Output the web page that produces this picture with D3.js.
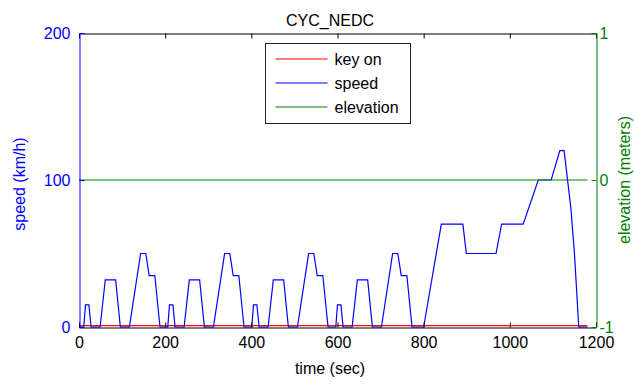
<!DOCTYPE html>
<html>
<head>
<meta charset="utf-8">
<script src="https://cdn.jsdelivr.net/npm/d3@7"></script>
<style>
  body { margin: 0; background: #fff; }
  text { font-family: "Liberation Sans", Arial, sans-serif; font-size: 16px; }
</style>
</head>
<body>
<div id="chart"></div>
<script>
// NEDC drive cycle, break points
var cycTime = [0, 11, 15, 23, 28, 49, 61, 85, 96, 117, 143, 155, 163, 176, 188,
  206, 210, 218, 223, 244, 256, 280, 291, 312, 338, 350, 358, 371, 383,
  401, 405, 413, 418, 439, 451, 475, 486, 507, 533, 545, 553, 566, 578,
  596, 600, 608, 613, 634, 646, 670, 681, 702, 728, 740, 748, 761, 773,
  800, 841, 891, 899, 968, 981, 1031, 1066, 1096, 1116, 1126, 1142, 1150, 1160, 1180];
var cycSpeed = [0, 0, 15, 15, 0, 0, 32, 32, 0, 0, 50, 50, 35, 35, 0,
  0, 15, 15, 0, 0, 32, 32, 0, 0, 50, 50, 35, 35, 0,
  0, 15, 15, 0, 0, 32, 32, 0, 0, 50, 50, 35, 35, 0,
  0, 15, 15, 0, 0, 32, 32, 0, 0, 50, 50, 35, 35, 0,
  0, 70, 70, 50, 50, 70, 70, 100, 100, 120, 120, 80, 50, 0, 0];

// key on (left axis) and elevation (right axis) are flat
var keyTime = [0, 1180];
var keyOn = [1, 1];
var elevTime = [0, 1180];
var elevation = [0, 0];

var xTicks = [0, 200, 400, 600, 800, 1000, 1200];
var leftTicks = [0, 100, 200];
var rightTicks = [-1, 0, 1];
var legendNames = ["key on", "speed", "elevation"];

var svgWidth = 634;
var svgHeight = 385;
var plot = { left: 79, right: 596, top: 33, bottom: 327 };

var blue = "#0000ff";
var green = "#008000";
var red = "#ff0000";

var svg = d3.select("#chart")
  .append("svg")
  .attr("width", svgWidth)
  .attr("height", svgHeight);

var x = d3.scaleLinear().domain([0, 1200]).range([plot.left, plot.right]);
var yLeft = d3.scaleLinear().domain([0, 200]).range([plot.bottom, plot.top]);
var yRight = d3.scaleLinear().domain([-1, 1]).range([plot.bottom, plot.top]);

// lines
function drawLine(times, vals, yScale, color) {
  var pts = times.map(function(t, i) { return [t, vals[i]]; });
  svg.append("path")
    .datum(pts)
    .attr("fill", "none")
    .attr("stroke", color)
    .attr("stroke-width", 1.2)
    .attr("d", d3.line().x(d => x(d[0])).y(d => yScale(d[1])));
}

drawLine(keyTime, keyOn, yLeft, red);
drawLine(cycTime, cycSpeed, yLeft, blue);
drawLine(elevTime, elevation, yRight, green);

// bottom axis
var bottomAxis = svg.append("g")
  .attr("transform", `translate(0, ${plot.bottom + 0.5})`)
  .call(d3.axisBottom(x).tickValues(xTicks).tickSizeInner(-5).tickSizeOuter(0).tickPadding(9)
    .tickFormat(d3.format("d")));
bottomAxis.selectAll("text").attr("fill", "#000").style("font-size", "16px");

// top axis (ticks only)
svg.append("g")
  .attr("transform", `translate(0, ${plot.top + 0.5})`)
  .call(d3.axisTop(x).tickValues(xTicks).tickSizeInner(-5).tickSizeOuter(0).tickFormat(""));

svg.selectAll(".domain").attr("stroke", "#000");
svg.selectAll(".tick line").attr("stroke", "#000");

// left axis
var leftAxis = svg.append("g")
  .attr("transform", `translate(${plot.left + 0.5}, 0)`)
  .call(d3.axisLeft(yLeft).tickValues(leftTicks).tickSizeInner(-5).tickSizeOuter(0).tickPadding(9));
leftAxis.select(".domain").attr("stroke", blue);
leftAxis.selectAll(".tick line").attr("stroke", blue);
leftAxis.selectAll("text").attr("fill", blue).style("font-size", "16px");

// right axis
var rightAxis = svg.append("g")
  .attr("transform", `translate(${plot.right + 0.5}, 0)`)
  .call(d3.axisRight(yRight).tickValues(rightTicks).tickSizeInner(-5).tickSizeOuter(0).tickPadding(3)
    .tickFormat(d => d < 0 ? "-" + Math.abs(d) : d));
rightAxis.select(".domain").attr("stroke", green);
rightAxis.selectAll(".tick line").attr("stroke", green);
rightAxis.selectAll("text").attr("fill", green).style("font-size", "16px");

// title and labels
svg.append("text")
  .attr("x", 330)
  .attr("y", 26)
  .attr("text-anchor", "middle")
  .attr("fill", "#000")
  .text("CYC_NEDC");

svg.append("text")
  .attr("x", 330)
  .attr("y", 374)
  .attr("text-anchor", "middle")
  .attr("fill", "#000")
  .text("time (sec)");

svg.append("text")
  .attr("transform", "translate(25, 184) rotate(-90)")
  .attr("text-anchor", "middle")
  .attr("fill", blue)
  .text("speed (km/h)");

svg.append("text")
  .attr("transform", "translate(630, 180) rotate(-90)")
  .attr("text-anchor", "middle")
  .attr("fill", green)
  .text("elevation (meters)");

// legend
var legend = svg.append("g").attr("transform", "translate(265.5, 43.5)");
legend.append("rect")
  .attr("width", 145)
  .attr("height", 80)
  .attr("fill", "#fff")
  .attr("stroke", "#222");

var legendColors = [red, blue, green];
legendNames.forEach(function(name, i) {
  var ly = 15.5 + i * 24;
  legend.append("line")
    .attr("x1", 10).attr("x2", 62)
    .attr("y1", ly).attr("y2", ly)
    .attr("stroke", legendColors[i])
    .attr("stroke-width", 1.2);
  legend.append("text")
    .attr("x", 69)
    .attr("y", ly + 6)
    .attr("fill", "#000")
    .text(name);
});
</script>
</body>
</html>
